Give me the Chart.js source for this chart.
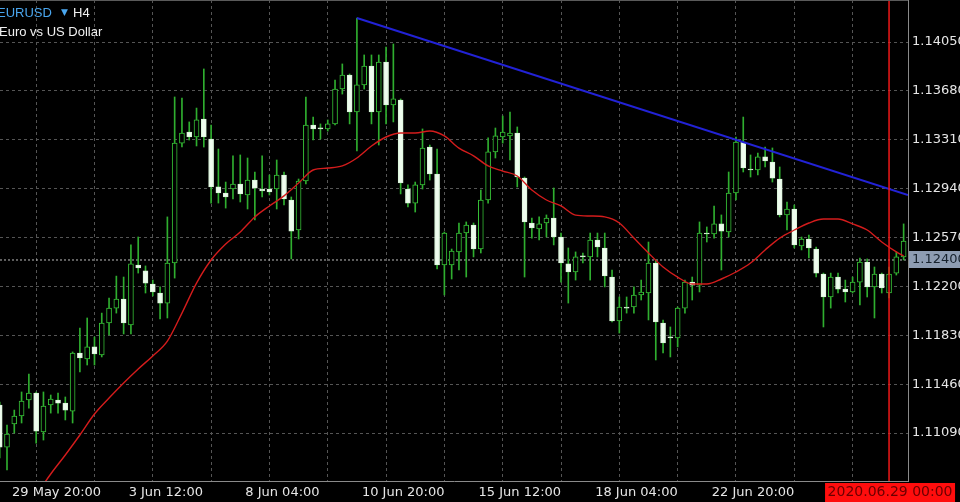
<!DOCTYPE html>
<html><head><meta charset="utf-8">
<script src="https://cdn.jsdelivr.net/npm/chart.js@4.4.1/dist/chart.umd.min.js"></script>
<style>html,body{margin:0;padding:0;background:#000;overflow:hidden}canvas{display:block}</style>
</head><body>
<canvas id="c" width="960" height="502"></canvas>
<script>
// ---------- DATA ----------
const symbolName = 'EURUSD';
const timeframe = 'H4';
const description = 'Euro vs US Dollar';

// bar positions (0 = 29 May 20:00, H4 bars)
const barIndex = [-1,0,1,2,3,4,5,6,7,8,9,10,11,12,13,14,15,16,17,18,19,20,21,22,23,24,25,26,27,28,29,30,31,32,33,34,35,36,37,38,39,40,41,42,43,44,45,46,47,48,49,50,51,52,53,54,55,56,57,58,59,60,61,62,63,64,65,66,67,68,69,70,71,72,73,74,75,76,77,78,79,80,81,82,83,84,85,86,87,88,89,90,91,92,93,94,95,96,97,98,99,100,101,102,103,104,105,106,107,108,109,110,111,112,113,114,115,116,117,118,119,120,121,122,123];

const opens = [1.11302,1.10984,1.11159,1.11219,1.11340,1.11393,1.11098,1.11302,1.11340,1.11317,1.11256,1.11696,1.11651,1.11742,1.11681,1.11923,1.12036,1.12105,1.11908,1.12362,1.12317,1.12218,1.12150,1.12074,1.12377,1.13285,1.13369,1.13331,1.13467,1.13316,1.12953,1.12907,1.12937,1.12975,1.12892,1.13005,1.12937,1.12937,1.12937,1.13043,1.12854,1.12627,1.12998,1.13422,1.13399,1.13392,1.13430,1.13694,1.13800,1.13520,1.13725,1.13868,1.13520,1.13899,1.13573,1.13611,1.12937,1.12831,1.12968,1.13255,1.13051,1.12362,1.12362,1.12461,1.12604,1.12665,1.12483,1.12854,1.13218,1.13331,1.13339,1.13361,1.13020,1.12680,1.12635,1.12680,1.12718,1.12574,1.12370,1.12309,1.12431,1.12423,1.12551,1.12491,1.12271,1.11938,1.12044,1.12044,1.12135,1.12150,1.12377,1.11923,1.11817,1.11810,1.12036,1.12233,1.12210,1.12604,1.12597,1.12673,1.12612,1.12907,1.13293,1.13089,1.13081,1.13180,1.13142,1.13013,1.12741,1.12786,1.12506,1.12559,1.12483,1.12294,1.12120,1.12271,1.12180,1.12158,1.12233,1.12385,1.12196,1.12294,1.12150,1.12301,1.12423];
const highs = [1.11325,1.11151,1.11264,1.11401,1.11537,1.11401,1.11401,1.11378,1.11393,1.11363,1.11704,1.11885,1.11961,1.11817,1.11998,1.12112,1.12278,1.12271,1.12514,1.12574,1.12355,1.12248,1.12196,1.12726,1.13634,1.13626,1.13445,1.13550,1.13846,1.13422,1.13240,1.12990,1.13188,1.13195,1.13172,1.13066,1.13188,1.13043,1.13157,1.13066,1.12877,1.13013,1.13634,1.13482,1.13430,1.13460,1.13762,1.13884,1.13808,1.14232,1.13952,1.13952,1.13952,1.14012,1.14035,1.13619,1.12968,1.12990,1.13392,1.13270,1.13240,1.12612,1.12483,1.12680,1.12688,1.12680,1.12930,1.13324,1.13399,1.13490,1.13520,1.13407,1.13028,1.12718,1.12726,1.12741,1.12945,1.12604,1.12491,1.12461,1.12453,1.12604,1.12604,1.12604,1.12324,1.12120,1.12120,1.12196,1.12248,1.12536,1.12400,1.11946,1.11893,1.12044,1.12248,1.12271,1.12688,1.12650,1.12808,1.12741,1.13066,1.13331,1.13482,1.13195,1.13210,1.13255,1.13248,1.13104,1.12839,1.12816,1.12574,1.12589,1.12498,1.12301,1.12301,1.12301,1.12248,1.12271,1.12415,1.12408,1.12347,1.12301,1.12347,1.12461,1.12673];
const lows = [1.10901,1.10810,1.11090,1.11166,1.11279,1.11014,1.11037,1.11241,1.11241,1.11189,1.11166,1.11552,1.11605,1.11605,1.11666,1.11832,1.11998,1.11840,1.11840,1.12301,1.12150,1.12128,1.11953,1.11961,1.12263,1.13255,1.13308,1.13263,1.13255,1.12831,1.12831,1.12793,1.12862,1.12839,1.12786,1.12703,1.12877,1.12892,1.12786,1.12816,1.12408,1.12559,1.12975,1.13308,1.13316,1.13376,1.13422,1.13656,1.13430,1.13225,1.13694,1.13430,1.13270,1.13430,1.13445,1.12900,1.12801,1.12763,1.12937,1.13005,1.12332,1.12135,1.12256,1.12324,1.12271,1.12423,1.12453,1.12831,1.13172,1.13285,1.13157,1.12953,1.12271,1.12566,1.12551,1.12574,1.12514,1.12233,1.12074,1.12248,1.12377,1.12248,1.12423,1.12196,1.11931,1.11847,1.11998,1.11998,1.12097,1.11946,1.11643,1.11696,1.11666,1.11742,1.11998,1.12097,1.12158,1.12536,1.12566,1.12324,1.12574,1.12854,1.13066,1.13028,1.13043,1.13104,1.12990,1.12726,1.12627,1.12491,1.12476,1.12415,1.12271,1.11893,1.12036,1.12150,1.12082,1.12150,1.12059,1.12120,1.11961,1.12150,1.12112,1.12286,1.12400];
const closes = [1.10984,1.11083,1.11219,1.11332,1.11393,1.11105,1.11295,1.11348,1.11317,1.11264,1.11696,1.11658,1.11742,1.11689,1.11923,1.12036,1.12105,1.11923,1.12370,1.12339,1.12225,1.12158,1.12074,1.12377,1.13285,1.13361,1.13331,1.13460,1.13331,1.12953,1.12907,1.12877,1.12975,1.12900,1.13005,1.12944,1.12922,1.12915,1.13043,1.12862,1.12619,1.12998,1.13422,1.13392,1.13392,1.13430,1.13694,1.13800,1.13520,1.13725,1.13868,1.13520,1.13899,1.13573,1.13619,1.12983,1.12831,1.12968,1.13248,1.13051,1.12362,1.12604,1.12468,1.12604,1.12665,1.12483,1.12854,1.13218,1.13339,1.13369,1.13361,1.13028,1.12688,1.12642,1.12673,1.12718,1.12574,1.12377,1.12309,1.12423,1.12423,1.12551,1.12498,1.12279,1.11938,1.12044,1.12036,1.12135,1.12158,1.12377,1.11931,1.11772,1.11810,1.12036,1.12233,1.12210,1.12604,1.12597,1.12673,1.12619,1.12907,1.13293,1.13096,1.13081,1.13180,1.13149,1.13020,1.12741,1.12786,1.12514,1.12559,1.12491,1.12301,1.12120,1.12271,1.12180,1.12158,1.12233,1.12385,1.12196,1.12294,1.12188,1.12294,1.12423,1.12544];

// moving average (red line), read at selected bars
const maIndex = [4,6,8,10,12,14,16,18,20,22,24,26,28,30,32,34,36,38,40,42,44,46,48,50,52,54,56,58,60,62,64,66,68,70,72,74,76,78,80,82,84,86,88,90,92,94,96,98,100,102,104,106,108,110,112,114,116,118,120,122,123];
const maValues = [1.10621,1.10780,1.10924,1.11075,1.11234,1.11355,1.11469,1.11575,1.11674,1.11786,1.11998,1.12225,1.12400,1.12521,1.12612,1.12726,1.12809,1.12885,1.12982,1.13081,1.13096,1.13112,1.13172,1.13263,1.13331,1.13361,1.13361,1.13376,1.13339,1.13247,1.13188,1.13112,1.13073,1.13036,1.12930,1.12854,1.12809,1.12740,1.12733,1.12726,1.12680,1.12566,1.12453,1.12347,1.12271,1.12218,1.12218,1.12256,1.12309,1.12377,1.12476,1.12566,1.12627,1.12680,1.12710,1.12710,1.12673,1.12627,1.12536,1.12461,1.12431];

// trend line (blue)
const trendIndex = [48, 123.6];
const trendValues = [1.14232, 1.12892];

// vertical cursor line & current price
const cursorIndex = 121;
const cursorLabel = '2020.06.29 00:00';
const bidPrice = 1.12400;

// axes
const yTickValues = [1.11090,1.11460,1.11830,1.12200,1.12570,1.12940,1.13310,1.13680,1.14050];
const xGridIndex = [0,8,16,24,32,40,48,56,64,72,80,88,96,104,112,120];
const xTickIndex = [0,16,32,48,64,80,96];
const xTickLabels = ['29 May 20:00','3 Jun 12:00','8 Jun 04:00','10 Jun 20:00','15 Jun 12:00','18 Jun 04:00','22 Jun 20:00'];

// view window
const X_MIN = -0.96, X_MAX = 123.6;
const Y_MIN = 1.10727, Y_MAX = 1.14368;

// ---------- CHART ----------
const isBull = k => closes[k] > opens[k];
const wickData = barIndex.map((x,k)=>({x, y:[lows[k], highs[k]]}));
const bodyData = barIndex.map((x,k)=>({x, y:[opens[k], closes[k]]}));
const maData = maIndex.map((x,k)=>({x, y:maValues[k]}));
const trendData = trendIndex.map((x,k)=>({x, y:trendValues[k]}));

const AXIS_FONT = {family:'DejaVu Sans', size:13};
const noPad = s => { s.paddingTop = 0; s.paddingBottom = 0; s.paddingLeft = 0; s.paddingRight = 0; };

const overlay = {
  id:'overlay',
  afterDraw(chart){
    const ctx = chart.ctx;
    const ys = chart.scales.y, xs = chart.scales.x;
    const area = chart.chartArea;
    ctx.save();
    // top frame line
    ctx.strokeStyle = '#5a5a5a';
    ctx.lineWidth = 1;
    ctx.beginPath(); ctx.moveTo(0, 0.5); ctx.lineTo(area.right, 0.5); ctx.stroke();
    // header
    ctx.textBaseline = 'alphabetic';
    ctx.textAlign = 'left';
    ctx.font = '13px "Liberation Sans"';
    ctx.fillStyle = '#4aa6ee';
    ctx.fillText(symbolName, -3, 17);
    ctx.font = '9px "DejaVu Sans"';
    ctx.fillText('\u25BC', 61, 15);
    ctx.font = '13px "Liberation Sans"';
    ctx.fillStyle = '#f0f0f0';
    ctx.fillText(timeframe, 73, 17);
    ctx.fillText(description, -1, 35.5);
    // bid price box
    const by = ys.getPixelForValue(bidPrice);
    ctx.fillStyle = '#8e9db3';
    ctx.fillRect(ys.left + 1, Math.round(by) - 9, chart.width - ys.left, 17);
    ctx.fillStyle = '#17222e';
    ctx.font = '13px "DejaVu Sans"';
    ctx.textBaseline = 'middle';
    ctx.fillText(bidPrice.toFixed(5), ys.left + 4, by);
    // cursor time box
    const cx = xs.getPixelForValue(cursorIndex);
    ctx.fillStyle = '#ff0d0d';
    ctx.fillRect(cx - 64, xs.top + 2, 130, 19);
    ctx.fillStyle = '#6a0000';
    ctx.textAlign = 'center';
    ctx.font = '14px "DejaVu Sans"';
    ctx.fillText(cursorLabel, cx + 1, xs.top + 11.5);
    ctx.restore();
  }
};

new Chart(document.getElementById('c'), {
  type:'bar',
  data:{ datasets:[
    { type:'line', data:[{x:X_MIN,y:bidPrice},{x:X_MAX,y:bidPrice}], borderColor:'#bdbdbd', borderWidth:1, borderDash:[2,2], pointRadius:0, order:7 },
    { type:'bar', data:wickData, grouped:false, barThickness:1, backgroundColor:'#2fae2f', borderWidth:0, order:6 },
    { type:'bar', data:bodyData, grouped:false, barThickness:5, minBarLength:1, borderSkipped:false, borderWidth:1,
      backgroundColor: c => isBull(c.dataIndex) ? '#000000' : '#eefcee',
      borderColor: c => isBull(c.dataIndex) ? '#36c036' : '#d9f5d9', order:5 },
    { type:'line', data:maData, borderColor:'#d41c1c', borderWidth:1.4, pointRadius:0, cubicInterpolationMode:'monotone', order:3 },
    { type:'line', data:trendData, borderColor:'#2222d6', borderWidth:2, pointRadius:0, order:2 },
    { type:'line', data:[{x:cursorIndex,y:Y_MIN},{x:cursorIndex,y:Y_MAX}], borderColor:'#f01818', borderWidth:1.5, pointRadius:0, order:1 }
  ]},
  options:{
    responsive:false, animation:false, devicePixelRatio:1,
    layout:{padding:0},
    plugins:{legend:{display:false}, tooltip:{enabled:false}},
    scales:{
      x:{ type:'linear', position:'bottom', min:X_MIN, max:X_MAX, offset:false,
        afterBuildTicks: s => { s.ticks = xGridIndex.map(v=>({value:v})); },
        afterFit: s => { s.height = 21; noPad(s); },
        grid:{ color:'#555555', lineWidth:1, drawTicks:false },
        border:{ display:true, color:'#8a8a8a', width:1, dash:[3,3] },
        ticks:{ autoSkip:false, maxRotation:0, minRotation:0, align:'start', labelOffset:5, padding:4,
          color:'#e6e6e6', font:AXIS_FONT,
          callback: v => { const k = xTickIndex.indexOf(v); return k >= 0 ? xTickLabels[k] : ''; } }
      },
      y:{ type:'linear', position:'right', min:Y_MIN, max:Y_MAX,
        afterBuildTicks: s => { s.ticks = yTickValues.map(v=>({value:v})); },
        afterFit: s => { s.width = 52; noPad(s); },
        grid:{ color:'#555555', lineWidth:1, drawTicks:false },
        border:{ display:true, color:'#8a8a8a', width:1, dash:[3,3] },
        ticks:{ padding:4, color:'#e6e6e6', font:AXIS_FONT, callback: v => v.toFixed(5) }
      }
    }
  },
  plugins:[overlay]
});
</script>
</body></html>
